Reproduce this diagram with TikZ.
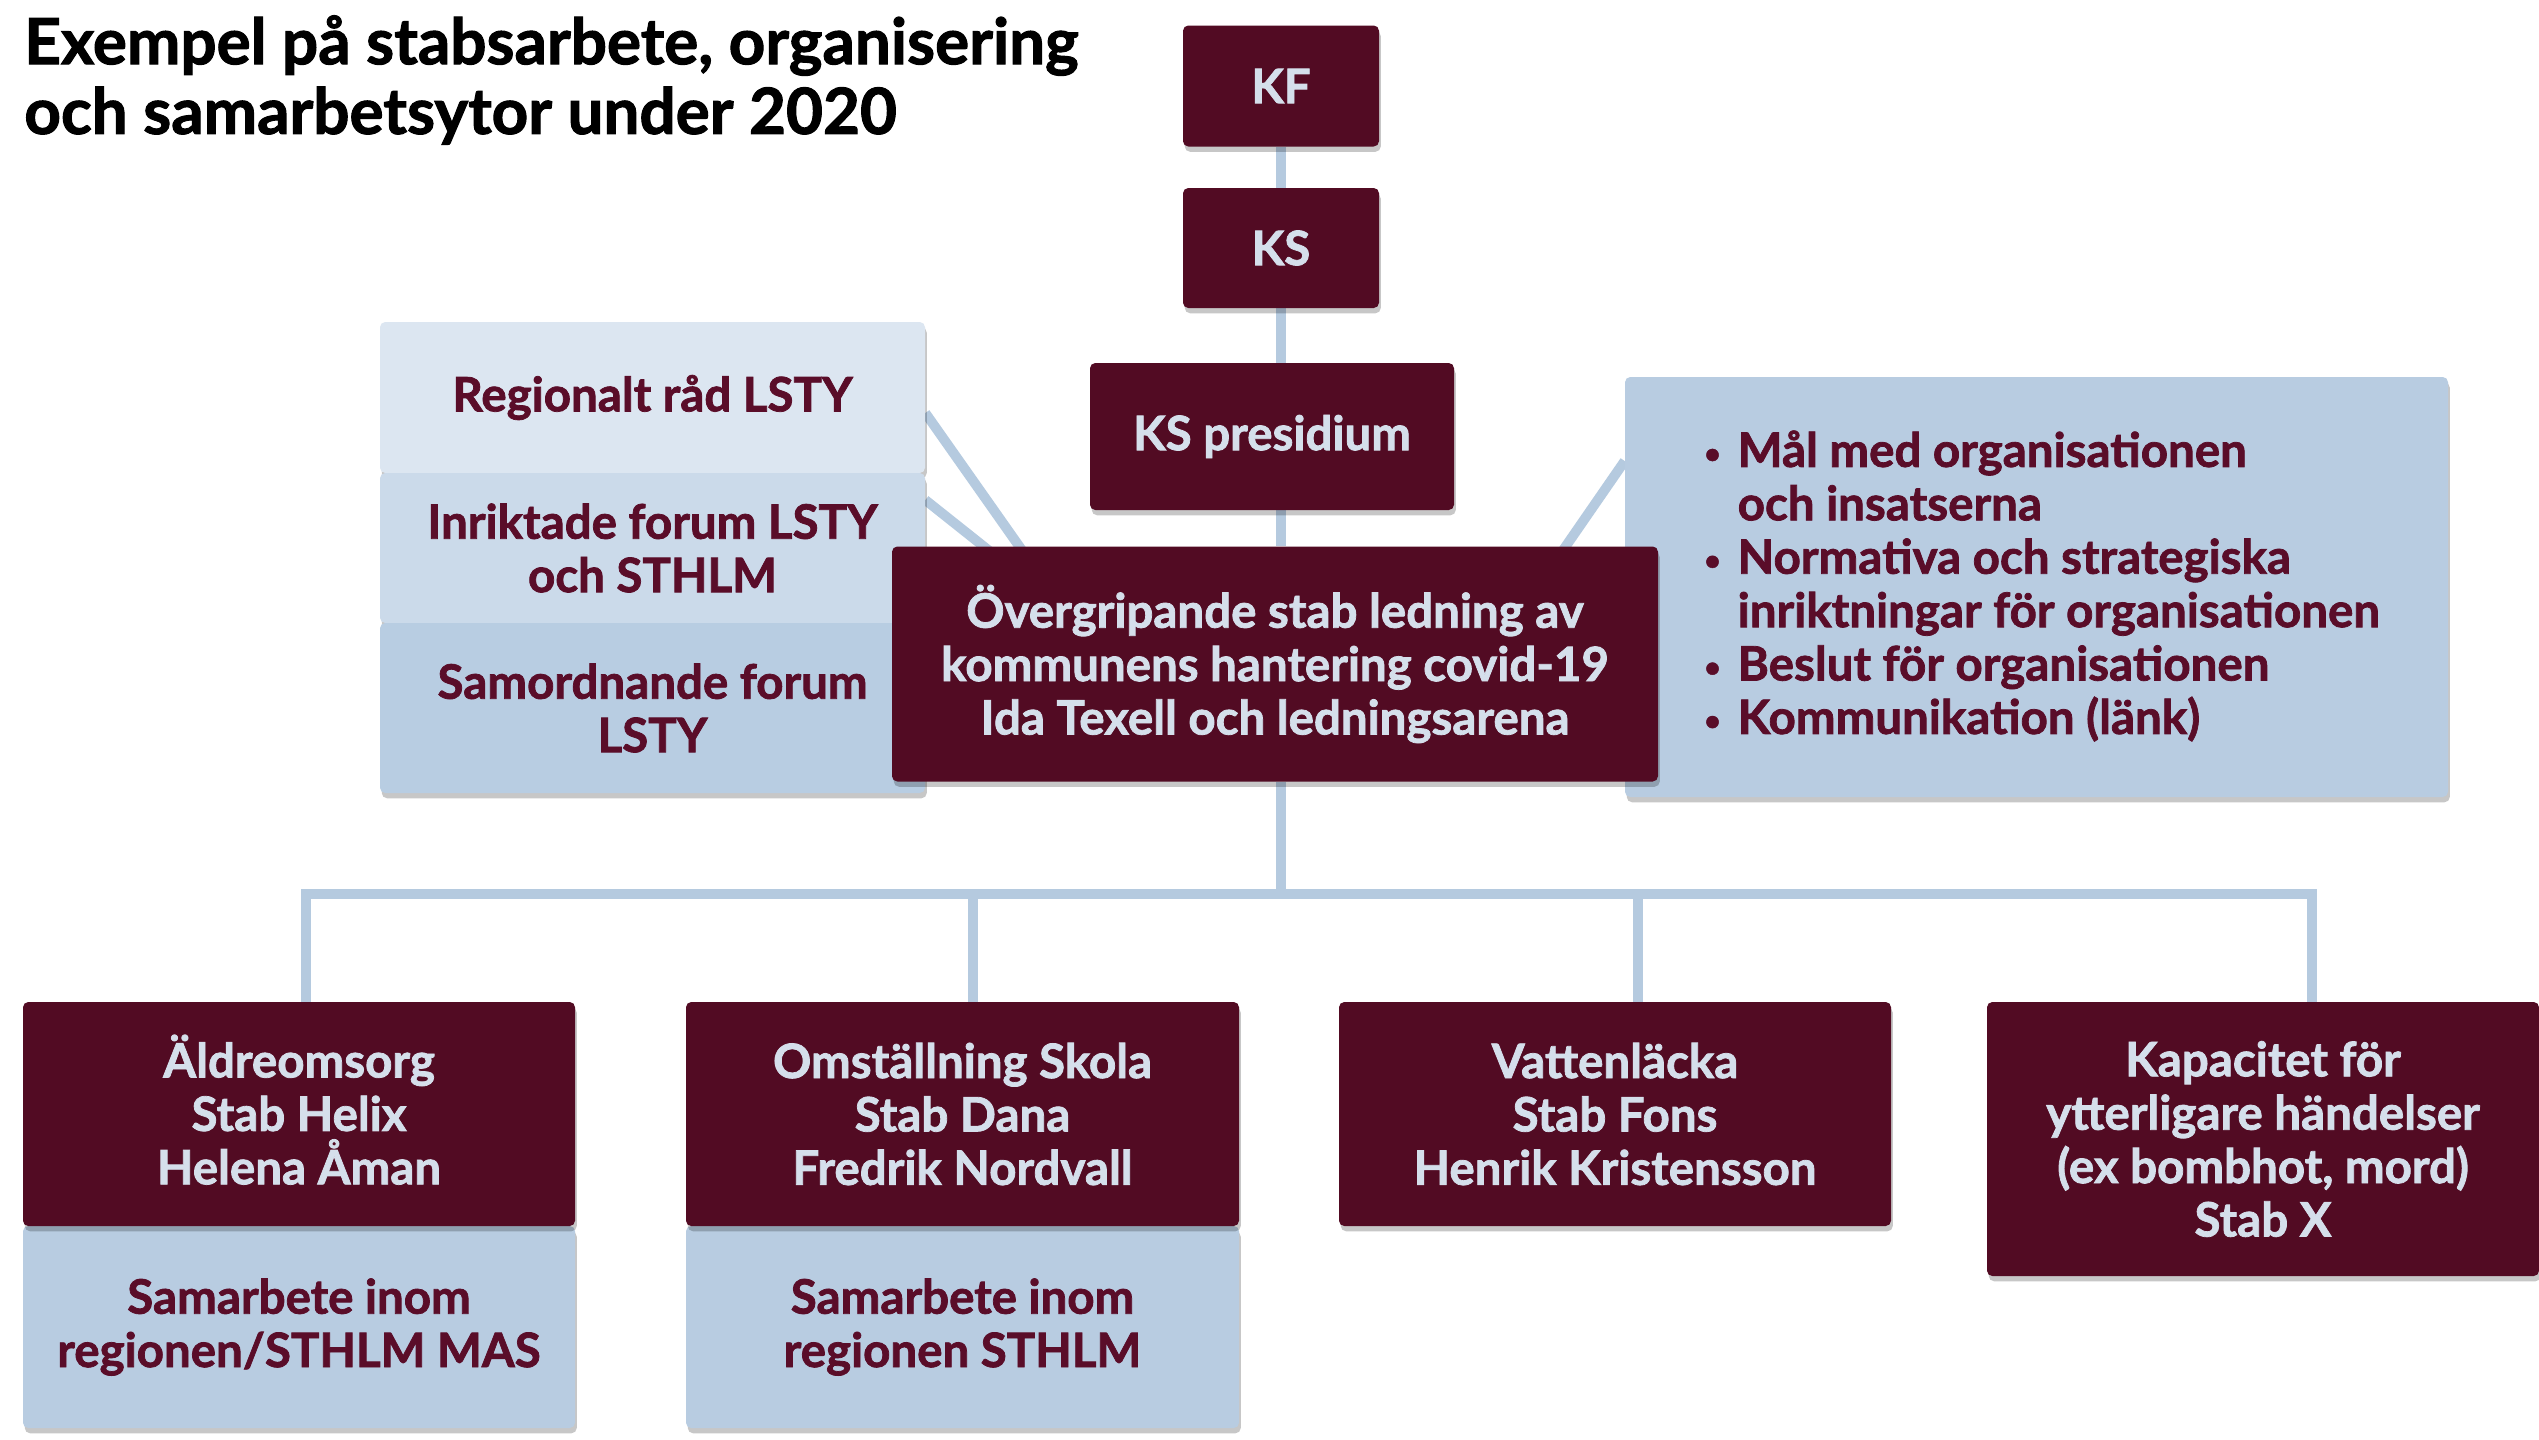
\documentclass[tikz,border=0pt]{standalone}
\usepackage{fontspec}
\setmainfont{Lato}[BoldFeatures={FakeBold=1.6}]
\usetikzlibrary{shadows}
\pgfdeclarelayer{back}
\pgfdeclarelayer{bg}
\pgfsetlayers{back,bg,main}
\definecolor{maroonfill}{HTML}{520B23}
\definecolor{paletxt}{HTML}{D5DFEB}
\definecolor{lbA}{HTML}{DCE6F1}
\definecolor{lbB}{HTML}{CBDAEA}
\definecolor{lbC}{HTML}{B8CDE2}
\definecolor{lbD}{HTML}{B8CCE1}
\definecolor{connc}{HTML}{B5CADF}
\definecolor{dtxt}{HTML}{5A0D29}
\newcommand\bodyfont{\fontsize{27}{30.4}\selectfont\bfseries}
\newcommand\ttlfont{\fontsize{36.3}{39.7}\selectfont\bfseries}
\newcommand\bul{\makebox[19pt][l]{\raisebox{2pt}{\fontsize{16}{16}\selectfont\textbullet}}}
\begin{document}
\begin{tikzpicture}[x=0.02cm,y=-0.02cm,
  sz/.style 2 args={minimum width=#1*0.02cm, minimum height=#2*0.02cm},
  box/.style={rectangle, rounded corners=3pt, inner sep=0pt, align=center, font=\bodyfont,
    drop shadow={shadow xshift=1pt, shadow yshift=-3pt, opacity=0.22, fill=black}},
  dbox/.style={box, fill=maroonfill, text=paletxt},
  lbox/.style={box, text=dtxt},
  conn/.style={draw=connc, line width=5.6pt},
]
\begin{pgfonlayer}{back}
\fill[white] (0,0) rectangle (2539,1440);
\end{pgfonlayer}
\useasboundingbox (0,0) rectangle (2539,1440);

\node[anchor=west, align=left, font=\ttlfont, inner sep=0pt] (title) at (24,80)
  {Exempel på stabsarbete, organisering\\och samarbetsytor under 2020};

% top chain
\node[dbox, sz={196}{121}] (KF) at (1281,86) {KF};
\node[dbox, sz={196}{120}] (KS) at (1281,248) {KS};
\node[dbox, sz={364}{147}] (KSp) at (1272,436.5) {KS presidium};

% left stack
\node[lbox, fill=lbA, sz={545}{151}] (R) at (652.5,397.5) {Regionalt råd LSTY};
\node[lbox, fill=lbB, sz={545}{150}] (I) at (652.5,548) {Inriktade forum LSTY\\och STHLM};
\node[lbox, fill=lbC, sz={545}{170}] (S) at (652.5,708) {Samordnande forum\\LSTY};

% right box
\node[lbox, fill=lbD, sz={823}{420}] (RB) at (2036.5,587) {};
\node[anchor=west, align=left, font=\bodyfont, text=dtxt, inner sep=0pt] (RBt) at (1704,586)
  {\bul Mål med organisationen\\
   \hspace*{19pt}och insatserna\\
   \bul Normativa och strategiska\\
   \hspace*{19pt}inriktningar för organisationen\\
   \bul Beslut för organisationen\\
   \bul Kommunikation (länk)};

% main box
\node[dbox, sz={766}{235}] (main) at (1275,664)
  {Övergripande stab ledning av\\kommunens hantering covid-19\\Ida Texell och ledningsarena};

% bottom row
\node[lbox, fill=lbD, sz={552}{202}] (A2) at (299,1327) {Samarbete inom\\regionen/STHLM MAS};
\node[dbox, sz={552}{224}] (A) at (299,1114) {\raisebox{0pt}[0.72em]{Äldreomsorg}\\Stab Helix\\Helena Åman};
\node[lbox, fill=lbD, sz={553}{202}] (B2) at (962.5,1327) {Samarbete inom\\regionen STHLM};
\node[dbox, sz={553}{224}] (B) at (962.5,1114) {Omställning Skola\\Stab Dana\\Fredrik Nordvall};
\node[dbox, sz={552}{224}] (C) at (1615,1114) {Vattenläcka\\Stab Fons\\Henrik Kristensson};
\node[dbox, sz={552}{274}] (D) at (2263,1139) {Kapacitet för\\ytterligare händelser\\(ex bombhot, mord)\\Stab X};

\coordinate (bar) at (1281,894);
\coordinate (dA) at (306,1002);
\coordinate (dB) at (973,1002);
\coordinate (dC) at (1638,1002);
\coordinate (dD) at (2312,1002);

\begin{pgfonlayer}{bg}
  \draw[conn] (KF.south) -- (KF.south |- main.north);
  \draw[conn] (KF.south |- main.south) -- (bar);
  \draw[conn] (dA) -- (dA |- bar) -- (dD |- bar) -- (dD);
  \draw[conn] (dB) -- (dB |- bar);
  \draw[conn] (dC) -- (dC |- bar);
  \draw[conn] ([yshift=-0.31cm]R.east) -- ([xshift=2.62cm,yshift=-0.1cm]main.north west);
  \draw[conn] ([yshift=0.96cm]I.east) -- ([xshift=1.96cm,yshift=-0.1cm]main.north west);
  \draw[conn] ([xshift=-1.92cm,yshift=-0.1cm]main.north east) -- ([yshift=2.52cm]RB.west);
\end{pgfonlayer}
\end{tikzpicture}
\end{document}
